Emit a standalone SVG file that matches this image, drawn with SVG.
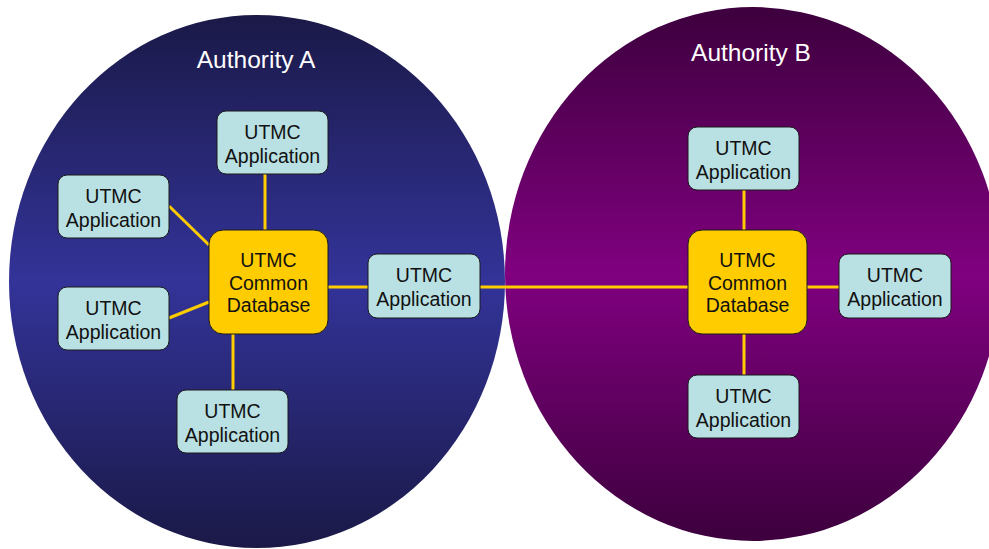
<svg xmlns="http://www.w3.org/2000/svg" width="989" height="549" viewBox="0 0 989 549">
  <defs>
    <linearGradient id="gA" x1="0" y1="0" x2="0" y2="1">
      <stop offset="0" stop-color="#1a1947"/>
      <stop offset="0.5" stop-color="#333399"/>
      <stop offset="1" stop-color="#1a1947"/>
    </linearGradient>
    <linearGradient id="gB" x1="0" y1="0" x2="0" y2="1">
      <stop offset="0" stop-color="#3d003d"/>
      <stop offset="0.5" stop-color="#800080"/>
      <stop offset="1" stop-color="#3d003d"/>
    </linearGradient>
  </defs>
  <style>
    .app { fill: #b9e0e3; stroke: #1a1a1a; stroke-width: 1; }
    .db { fill: #ffcc00; stroke: #1a1a1a; stroke-width: 1; }
    .t { font-family: "Liberation Sans", Arial, sans-serif; font-size: 19.5px; fill: #111; text-anchor: middle; }
    .title { font-family: "Liberation Sans", Arial, sans-serif; font-size: 24.5px; fill: #ffffff; text-anchor: middle; }
    .conn line { stroke: #ffcc00; stroke-width: 3; }
  </style>
  <rect width="989" height="549" fill="#ffffff"/>
  <g id="authorityA">
    <ellipse cx="257" cy="281.5" rx="248" ry="266.5" fill="url(#gA)"/>
    <text class="title" x="256" y="68">Authority A</text>
  </g>
  <g id="authorityB">
    <ellipse cx="753" cy="274" rx="248" ry="267" fill="url(#gB)"/>
    <text class="title" x="751" y="61">Authority B</text>
  </g>
  <g class="conn" id="connectors">
    <line x1="265" y1="174" x2="265" y2="230"/>
    <line x1="169" y1="206" x2="209" y2="245"/>
    <line x1="169" y1="318" x2="209" y2="302"/>
    <line x1="233" y1="334" x2="233" y2="390"/>
    <line x1="328" y1="287" x2="368" y2="287"/>
    <line x1="480" y1="287" x2="688" y2="287"/>
    <line x1="744" y1="190" x2="744" y2="230"/>
    <line x1="744" y1="334" x2="744" y2="375"/>
    <line x1="807" y1="287" x2="839" y2="287"/>
  </g>
  <g id="a-app-top">
    <rect class="app" x="217" y="111" width="111" height="63" rx="9"/>
    <text class="t" x="272.5" y="139">UTMC</text>
    <text class="t" x="272.5" y="163">Application</text>
  </g>
  <g id="a-app-left1">
    <rect class="app" x="58" y="175" width="111" height="63" rx="9"/>
    <text class="t" x="113.5" y="203">UTMC</text>
    <text class="t" x="113.5" y="227">Application</text>
  </g>
  <g id="a-app-left2">
    <rect class="app" x="58" y="287" width="111" height="63" rx="9"/>
    <text class="t" x="113.5" y="315">UTMC</text>
    <text class="t" x="113.5" y="339">Application</text>
  </g>
  <g id="a-db">
    <rect class="db" x="209" y="230" width="119" height="104" rx="14"/>
    <text class="t" x="268.5" y="267">UTMC</text>
    <text class="t" x="268.5" y="289.5">Common</text>
    <text class="t" x="268.5" y="312">Database</text>
  </g>
  <g id="a-app-right">
    <rect class="app" x="368" y="254" width="112" height="64" rx="9"/>
    <text class="t" x="424" y="282">UTMC</text>
    <text class="t" x="424" y="306">Application</text>
  </g>
  <g id="a-app-bottom">
    <rect class="app" x="177" y="390" width="111" height="63" rx="9"/>
    <text class="t" x="232.5" y="418">UTMC</text>
    <text class="t" x="232.5" y="442">Application</text>
  </g>
  <g id="b-app-top">
    <rect class="app" x="688" y="127" width="111" height="63" rx="9"/>
    <text class="t" x="743.5" y="155">UTMC</text>
    <text class="t" x="743.5" y="179">Application</text>
  </g>
  <g id="b-db">
    <rect class="db" x="688" y="230" width="119" height="104" rx="14"/>
    <text class="t" x="747.5" y="267">UTMC</text>
    <text class="t" x="747.5" y="289.5">Common</text>
    <text class="t" x="747.5" y="312">Database</text>
  </g>
  <g id="b-app-right">
    <rect class="app" x="839" y="254" width="112" height="64" rx="9"/>
    <text class="t" x="895" y="282">UTMC</text>
    <text class="t" x="895" y="306">Application</text>
  </g>
  <g id="b-app-bottom">
    <rect class="app" x="688" y="375" width="111" height="63" rx="9"/>
    <text class="t" x="743.5" y="403">UTMC</text>
    <text class="t" x="743.5" y="427">Application</text>
  </g>
</svg>
